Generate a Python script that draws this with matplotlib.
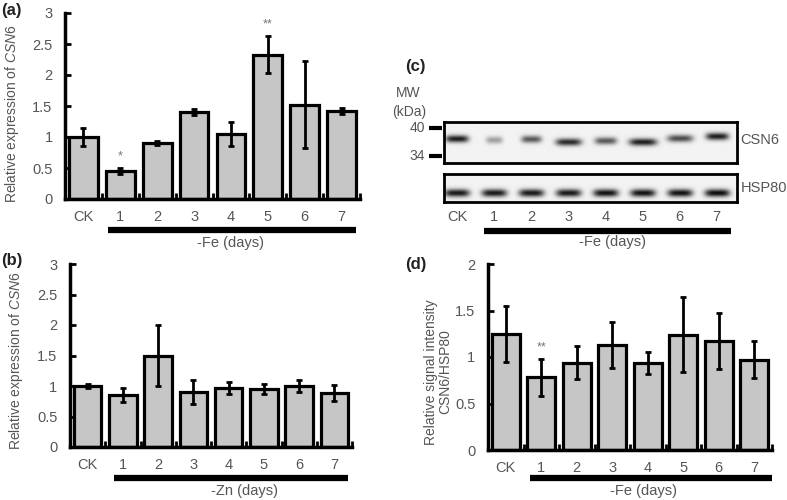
import numpy as np
import matplotlib
matplotlib.use("Agg")
import matplotlib.pyplot as plt

plt.rcParams['font.family'] = ['Liberation Sans', 'DejaVu Sans']
plt.rcParams['mathtext.fontset'] = 'custom'
plt.rcParams['mathtext.rm'] = 'Liberation Sans'
plt.rcParams['mathtext.it'] = 'Liberation Sans:italic'

# ---------------- data ----------------
categories = ['CK', '1', '2', '3', '4', '5', '6', '7']

a_vals = [1.0, 0.45, 0.9, 1.4, 1.05, 2.33, 1.52, 1.42]
a_err = [0.15, 0.05, 0.03, 0.05, 0.2, 0.3, 0.7, 0.05]
a_sig = ['', '*', '', '', '', '**', '', '']

b_vals = [1.0, 0.85, 1.5, 0.9, 0.97, 0.95, 1.0, 0.88]
b_err = [0.03, 0.12, 0.5, 0.2, 0.1, 0.08, 0.1, 0.13]

d_vals = [1.25, 0.78, 0.94, 1.13, 0.935, 1.24, 1.17, 0.97]
d_err = [0.3, 0.2, 0.18, 0.25, 0.12, 0.4, 0.3, 0.2]
d_sig = ['', '**', '', '', '', '', '', '']

yticks_3 = [0, 0.5, 1, 1.5, 2, 2.5, 3]
yticklabels_3 = ['0', '0.5', '1', '1.5', '2', '2.5', '3']
yticks_2 = [0, 0.5, 1, 1.5, 2]
yticklabels_2 = ['0', '0.5', '1', '1.5', '2']

# western blot band intensities (relative darkness) and band shifts
csn6_intensity = [0.9, 0.35, 0.65, 0.85, 0.65, 0.9, 0.7, 0.9]
csn6_width = [0.62, 0.45, 0.55, 0.7, 0.6, 0.75, 0.7, 0.62]
csn6_ypos = [0.41, 0.44, 0.42, 0.49, 0.46, 0.49, 0.40, 0.35]
hsp80_intensity = [0.92, 0.92, 0.92, 0.92, 0.95, 0.95, 0.95, 0.97]
mw_labels = ['40', '34']

W, H = 787, 500
TXT = '#555555'
BAR = '#c6c6c6'

fig = plt.figure(figsize=(W / 100, H / 100), dpi=100)


def rect(x0, y0, x1, y1):
    return [x0 / W, 1 - y1 / H, (x1 - x0) / W, (y1 - y0) / H]


def bar_panel(r, vals, errs, ymax, yt, ytl, ylabel, sig, line_x, cond, cond_x,
              line_y, cond_y, ylab_x, ylab_y):
    ax = fig.add_axes(r)
    x = np.arange(len(categories))
    ax.bar(x, vals, width=0.78, color=BAR, edgecolor='black', linewidth=2.3, zorder=2)
    ax.errorbar(x, vals, yerr=errs, fmt='none', ecolor='black', elinewidth=2,
                capsize=2.5, capthick=2, zorder=3)
    ax.set_xlim(-0.5, 7.5)
    ax.set_ylim(0, ymax)
    for s in ['top', 'right']:
        ax.spines[s].set_visible(False)
    for s in ['left', 'bottom']:
        ax.spines[s].set_linewidth(2.5)
    ax.set_xticks(x)
    ax.set_xticklabels(categories)
    ax.set_xticks(np.arange(-0.5, 8, 1), minor=True)
    ax.tick_params(axis='x', which='major', length=0, pad=8, labelsize=10.5, labelcolor=TXT)
    ax.tick_params(axis='x', which='minor', length=4, width=2, direction='in')
    ax.set_yticks(yt)
    ax.set_yticklabels(ytl)
    ax.tick_params(axis='y', length=4, width=2, direction='in', pad=9,
                   labelsize=10.5, labelcolor=TXT)
    ax.set_ylabel(ylabel, fontsize=10, color=TXT, linespacing=1.0)
    ax.yaxis.set_label_coords(ylab_x, ylab_y)
    for xi, v, e, s in zip(x, vals, errs, sig):
        if s:
            ax.text(xi, v + e + 0.06 * ymax, s, ha='center', va='center',
                    fontsize=9, color='#777777')
    tr = ax.get_xaxis_transform()
    ax.plot(line_x, [line_y, line_y], color='black', linewidth=4.5,
            transform=tr, clip_on=False, solid_capstyle='butt')
    ax.text(cond_x, cond_y, cond, transform=tr, ha='center', va='center',
            fontsize=10.5, color=TXT)
    return ax


PANEL = dict(fontsize=12, fontweight='bold', color='#222222', va='center')

# (a)
bar_panel(rect(65, 13, 360, 199), a_vals, a_err, 3, yticks_3, yticklabels_3,
          r'Relative expression of $\mathit{CSN6}$', a_sig,
          [0.67, 7.39], '-Fe (days)', 4.0, -0.167, -0.237, -0.148, 0.46)
fig.text(1 / W, 1 - 11 / H, '(a)', **PANEL)

# (b)
bar_panel(rect(70, 264, 352, 447), b_vals, b_err, 3, yticks_3, yticklabels_3,
          r'Relative expression of $\mathit{CSN6}$', [''] * 8,
          [0.75, 7.39], '-Zn (days)', 4.46, -0.17, -0.24, -0.16, 0.47)
fig.text(1 / W, 1 - 261 / H, '(b)', **PANEL)

# (d)
bar_panel(rect(488, 264, 772, 450), d_vals, d_err, 2, yticks_2, yticklabels_2,
          'Relative signal intensity\nCSN6/HSP80', d_sig,
          [0.68, 7.5], '-Fe (days)', 3.87, -0.15, -0.22, -0.125, 0.42)
fig.text(405 / W, 1 - 265 / H, '(d)', **PANEL)

# (c) western blot
fig.text(405 / W, 1 - 67 / H, '(c)', **PANEL)
fig.text(408 / W, 1 - 93 / H, 'MW', fontsize=10, color=TXT, ha='center', va='center')
fig.text(409 / W, 1 - 112 / H, '(kDa)', fontsize=10, color=TXT, ha='center', va='center')

XL = (-0.35, 7.55)
nx, ny = 700, 100
gx = np.linspace(XL[0], XL[1], nx)


def blot(ax, intens, widths, ypos, hy):
    gy = np.linspace(0, 1, ny)
    X, Y = np.meshgrid(gx, gy)
    dark = np.zeros_like(X)
    for i, (it, w, yp) in enumerate(zip(intens, widths, ypos)):
        dx = (X - i) / (w / 2)
        dy = (Y - yp) / hy
        dark += it * np.exp(-np.abs(dx) ** 4) * np.exp(-dy ** 2)
    img = 0.95 - 0.93 * np.clip(dark, 0, 1)
    ax.imshow(img, cmap='gray', vmin=0, vmax=1, extent=(XL[0], XL[1], 1, 0),
              aspect='auto', interpolation='bilinear')
    ax.set_xlim(*XL)
    ax.set_ylim(1, 0)
    ax.set_xticks([])
    ax.set_yticks([])
    for s in ax.spines.values():
        s.set_linewidth(2)


ax_c1 = fig.add_axes(rect(444, 122, 737, 163))
blot(ax_c1, csn6_intensity, csn6_width, csn6_ypos, 0.09)
for lab, yy in zip(mw_labels, [0.15, 0.83]):
    ax_c1.plot([-0.75, -0.40], [yy, yy], color='black', linewidth=3,
               clip_on=False, solid_capstyle='butt')
    ax_c1.text(-0.86, yy, lab, ha='right', va='center', fontsize=10, color=TXT)
ax_c1.text(7.64, 0.45, 'CSN6', ha='left', va='center', fontsize=10.5, color=TXT)

ax_c2 = fig.add_axes(rect(444, 174, 737, 202))
blot(ax_c2, hsp80_intensity, [0.68] * 8, [0.68] * 8, 0.14)
ax_c2.text(7.64, 0.5, 'HSP80', ha='left', va='center', fontsize=10.5, color=TXT)
tr = ax_c2.get_xaxis_transform()
for i, c in enumerate(categories):
    ax_c2.text(i, -0.55, c, transform=tr, ha='center', va='center',
               fontsize=10.5, color=TXT)
ax_c2.plot([0.73, 7.4], [-1.04, -1.04], transform=tr, color='black',
           linewidth=4.5, clip_on=False, solid_capstyle='butt')
ax_c2.text(4.2, -1.43, '-Fe (days)', transform=tr, ha='center', va='center',
           fontsize=10.5, color=TXT)

fig.savefig('out.png', dpi=100)
